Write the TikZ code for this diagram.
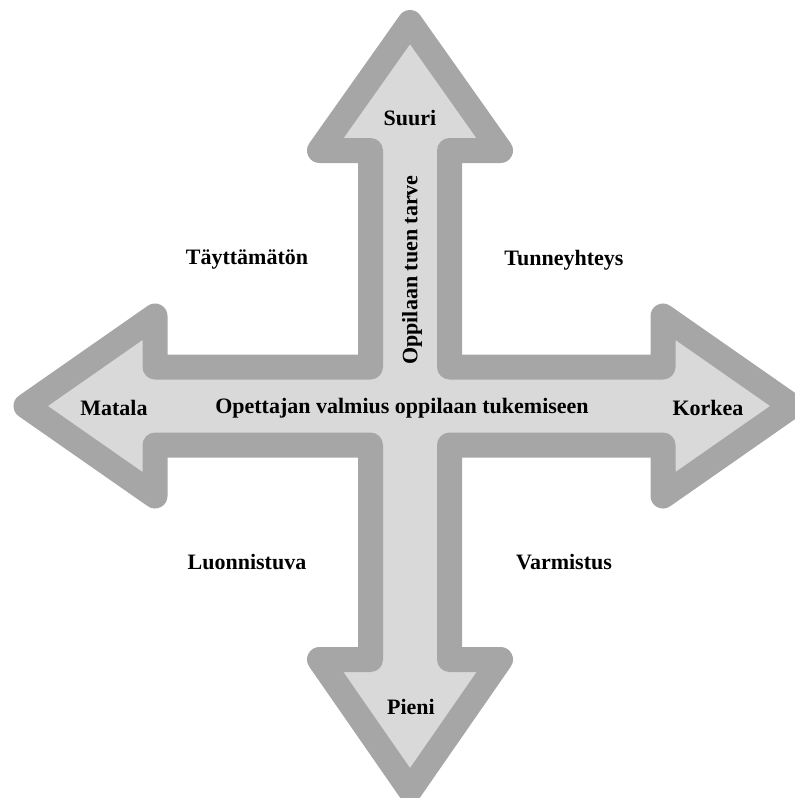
\documentclass[tikz,border=0pt]{standalone}
\usepackage{fontspec}
\setmainfont{Liberation Serif}
\begin{document}
\begin{tikzpicture}[x=1pt,y=-1pt,
  cross/.style={draw=arrowedge,fill=arrowfill,line width=25pt,line join=round},
  lbl/.style={font=\fontsize{22}{26}\selectfont\bfseries,inner sep=0pt}]
\definecolor{arrowedge}{HTML}{A6A6A6}
\definecolor{arrowfill}{HTML}{D9D9D9}
\useasboundingbox (0,0) rectangle (795,798);
\clip (0,0) rectangle (795,798);
% four-headed arrow
\draw[cross] (410,22.5) -- (500.5,150.5) -- (449.5,150.5) -- (449.5,367)
  -- (663,367) -- (663,316) -- (792,406) -- (663,496) -- (663,445)
  -- (449.5,445) -- (449.5,659.5) -- (500.5,659.5) -- (410,790)
  -- (319.5,659.5) -- (370.5,659.5) -- (370.5,445) -- (155,445)
  -- (155,496) -- (26,406) -- (155,316) -- (155,367) -- (370.5,367)
  -- (370.5,150.5) -- (319.5,150.5) -- cycle;
% axis ends
\node[lbl] (suuri) at (410,118) {Suuri};
\node[lbl] (pieni) at (411,707) {Pieni};
\node[lbl] (matala) at (114,408) {Matala};
\node[lbl] (korkea) at (708,408) {Korkea};
% axis titles
\node[lbl] (xaxis) at (402,408) {Opettajan valmius oppilaan tukemiseen};
\node[lbl,rotate=90] (yaxis) at (412,270) {Oppilaan tuen tarve};
% quadrants
\node[lbl] (q1) at (247,260) {Täyttämätön};
\node[lbl] (q2) at (564,260) {Tunneyhteys};
\node[lbl] (q3) at (247,562) {Luonnistuva};
\node[lbl] (q4) at (564,562) {Varmistus};
\end{tikzpicture}
\end{document}
